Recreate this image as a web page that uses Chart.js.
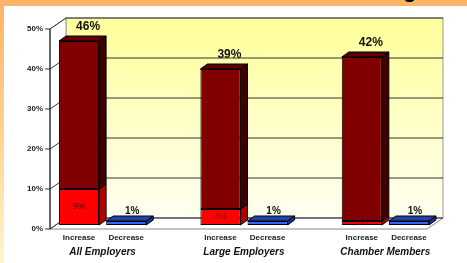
<!DOCTYPE html>
<html>
<head>
<meta charset="utf-8">
<script src="https://cdn.jsdelivr.net/npm/chart.js@4"></script>
<style>
  body { margin: 0; }
  #wrap { position: relative; width: 467px; height: 263px; overflow: hidden;
    background: linear-gradient(to bottom, #FFB366 0%, #FFD08A 45%, #FFF6CC 100%); }
  #panel { position: absolute; left: 4px; top: 6px; right: 0; bottom: 0; background: #fff; }
  #cut { position: absolute; left: 403px; top: -21px; font: bold 22px 'Liberation Sans', Arial, sans-serif;
    line-height: 22px; color: #000; }
  canvas { position: absolute; left: 0; top: 0; }
</style>
</head>
<body>
<div id="wrap">
  <div id="cut">g</div>
  <div id="panel"></div>
  <canvas id="c" width="467" height="263"></canvas>
</div>
<script>
const groups = ['All Employers', 'Large Employers', 'Chamber Members'];
const barNames = ['Increase', 'Decrease'];
const increaseTotal = [46, 39, 42];
const increaseLower = [9, 4, 1];
const decrease = [1, 1, 1];

// 8 slots: Increase, Decrease, gap, ...
let slotLabels = [], groupSlots = [], lower = [], upper = [], kinds = [];
groups.forEach((g, i) => {
  if (i > 0) { slotLabels.push(''); groupSlots.push(''); lower.push(null); upper.push(null); kinds.push(''); }
  slotLabels.push(barNames[0], barNames[1]);
  groupSlots.push(g, '');
  lower.push(increaseLower[i], decrease[i]);
  upper.push(increaseTotal[i] - increaseLower[i], null);
  kinds.push('inc', 'dec');
});

const front = { inc: '#FF0000', dec: '#3366FF' };
const side = { inc: '#B00000', dec: '#1A3399', up: '#400000' };
const topc = { dec: '#2244AA', up: '#5C0000' };

Chart.defaults.font.family = "'Liberation Sans', Arial, sans-serif";
Chart.defaults.color = '#222';

function poly(ctx, pts, fill, stroke) {
  ctx.beginPath();
  pts.forEach((p, i) => i ? ctx.lineTo(p[0], p[1]) : ctx.moveTo(p[0], p[1]));
  ctx.closePath();
  if (fill) { ctx.fillStyle = fill; ctx.fill(); }
  if (stroke) { ctx.strokeStyle = stroke; ctx.lineWidth = 1; ctx.stroke(); }
}

const frame3d = {
  id: 'frame3d',
  beforeDatasetsDraw(chart) {
    const { ctx, chartArea: a, scales: { y } } = chart;
    const fl = a.left - 5.5, fb = a.bottom + 4, ft = a.top + 4, fr = a.right - 5.5;
    const bl = a.left + 10.5, bb = a.bottom - 7, bt = a.top - 7, br = a.right + 10.5;
    ctx.save();
    const g = ctx.createLinearGradient(0, bt, 0, bb);
    g.addColorStop(0, '#FFFF99');
    g.addColorStop(1, '#FFFFF2');
    ctx.fillStyle = g;
    ctx.fillRect(bl, bt, br - bl, bb - bt);
    ctx.strokeStyle = '#999';
    ctx.strokeRect(bl, bt, br - bl, bb - bt);
    poly(ctx, [[fl, ft], [bl, bt], [bl, bb], [fl, fb]], '#fff', '#999');
    poly(ctx, [[fl, fb], [bl, bb], [br, bb], [fr, fb]], '#fff', '#888');
    ctx.strokeStyle = '#333';
    y.ticks.forEach(t => {
      const p = y.getPixelForValue(t.value);
      ctx.beginPath();
      ctx.moveTo(fl, p + 4);
      ctx.lineTo(bl, p - 7);
      ctx.lineTo(br, p - 7);
      ctx.stroke();
      ctx.beginPath();
      ctx.moveTo(fl - 5, p + 4);
      ctx.lineTo(fl, p + 4);
      ctx.stroke();
    });
    ctx.strokeStyle = '#000';
    ctx.beginPath();
    ctx.moveTo(fl, ft);
    ctx.lineTo(fl, fb);
    ctx.stroke();
    ctx.restore();
  },
  afterDatasetsDraw(chart) {
    const { ctx } = chart;
    const m0 = chart.getDatasetMeta(0).data, m1 = chart.getDatasetMeta(1).data;
    const dx = 7, dy = 5;
    ctx.save();
    ctx.lineJoin = 'round';
    const faces = (bar, sc, tc) => {
      const { x, y, base, width } = bar.getProps(['x', 'y', 'base', 'width'], true);
      const l = x - width / 2, r = x + width / 2;
      poly(ctx, [[r, y], [r + dx, y - dy], [r + dx, base - dy], [r, base]], sc, '#000');
      if (tc) poly(ctx, [[l, y], [l + dx, y - dy], [r + dx, y - dy], [r, y]], tc, '#000');
    };
    lower.forEach((v, i) => {
      if (v == null) return;
      const isTop = upper[i] == null;
      faces(m0[i], side[kinds[i]], isTop ? topc[kinds[i]] : null);
      if (!isTop) faces(m1[i], side.up, topc.up);
    });
    ctx.textAlign = 'center';
    ctx.textBaseline = 'middle';
    lower.forEach((v, i) => {
      if (v == null) return;
      const b = m0[i];
      if (kinds[i] === 'inc') {
        ctx.font = "9px 'Liberation Sans', Arial, sans-serif";
        ctx.fillStyle = '#660000';
        ctx.fillText(v + '%', b.x, (b.y + b.base) / 2);
        const t = m1[i];
        ctx.font = "bold 12px 'Liberation Sans', Arial, sans-serif";
        ctx.fillStyle = '#111';
        ctx.fillText((v + upper[i]) + '%', t.x + 9, t.y - 14);
      } else {
        ctx.font = "bold 10px 'Liberation Sans', Arial, sans-serif";
        ctx.fillStyle = '#111';
        ctx.fillText(v + '%', b.x + 6, b.y - 10);
      }
    });
    ctx.restore();
  }
};

new Chart(document.getElementById('c'), {
  type: 'bar',
  data: {
    labels: slotLabels,
    datasets: [
      { label: 'lower', data: lower, backgroundColor: kinds.map(k => front[k] || '#000'),
        borderColor: '#000', borderWidth: 1, borderSkipped: false },
      { label: 'upper', data: upper, backgroundColor: '#800000',
        borderColor: '#000', borderWidth: 1, borderSkipped: false }
    ]
  },
  options: {
    responsive: false,
    devicePixelRatio: 1,
    animation: false,
    layout: { padding: { top: 25, right: 34.5, left: 0, bottom: 0 } },
    datasets: { bar: { categoryPercentage: 1, barPercentage: 0.85 } },
    plugins: { legend: { display: false }, tooltip: { enabled: false } },
    scales: {
      x: {
        stacked: true, offset: true, weight: 0,
        grid: { display: false, drawTicks: false }, border: { display: false },
        ticks: { autoSkip: false, maxRotation: 0, padding: 8, color: '#222',
          font: { size: 8, weight: 'bold' } },
        afterFit: s => { s.height = 20; }
      },
      groups: {
        type: 'category', position: 'bottom', labels: groupSlots, offset: true, weight: 1,
        grid: { display: false, drawTicks: false }, border: { display: false },
        ticks: { autoSkip: false, maxRotation: 0, padding: 1.5, labelOffset: 23.5, color: '#111',
          font: { size: 10, weight: 'bold', style: 'italic' } },
        afterFit: s => { s.height = 18; }
      },
      y: {
        stacked: true, min: 0, max: 50,
        grid: { display: false, drawTicks: false }, border: { display: false },
        ticks: { stepSize: 10, padding: 12.5, labelOffset: 4, color: '#222',
          font: { size: 8, weight: 'bold' }, callback: v => v + '%' },
        afterFit: s => { s.width = 55.5; }
      }
    }
  },
  plugins: [frame3d]
});
</script>
</body>
</html>
